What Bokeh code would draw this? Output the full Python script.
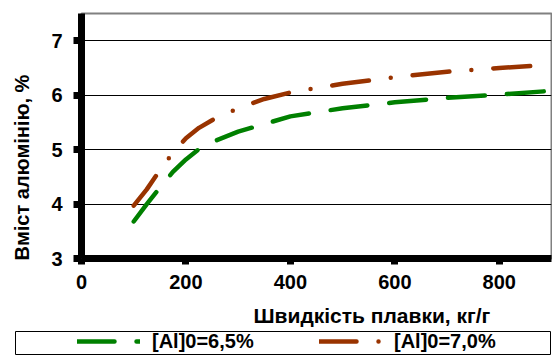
from bokeh.plotting import figure
from bokeh.layouts import column
from bokeh.models import (Range1d, FixedTicker, LinearAxis, Title, Legend,
                          LegendItem, ColumnDataSource)
from bokeh.embed import file_html
from bokeh.resources import INLINE

# Melting rate (kg/h) versus aluminium content (%) for two initial Al levels
rate_al65 = [100, 125, 150, 175, 200, 225, 250, 300, 350, 400, 500, 600, 700, 800, 900]
al_al65 = [3.68, 4.00, 4.30, 4.59, 4.82, 5.01, 5.14, 5.33, 5.47, 5.61, 5.76, 5.87, 5.95, 6.01, 6.08]

rate_al70 = [100, 125, 150, 175, 200, 225, 250, 300, 350, 400, 500, 600, 700, 800, 870]
al_al70 = [3.97, 4.27, 4.62, 4.94, 5.21, 5.40, 5.54, 5.76, 5.93, 6.05, 6.21, 6.33, 6.43, 6.50, 6.54]

series_labels = ["[Al]0=6,5%", "[Al]0=7,0%"]
x_ticks = [0, 200, 400, 600, 800]
y_ticks = [3, 4, 5, 6, 7]
x_title = "Швидкість плавки, кг/г"
y_title = "Вміст алюмінію, %"

FONT = "Liberation Sans"
GREEN = "#008000"
BROWN = "#993300"
GREEN_DASH = "37 22"
BROWN_DASH = "37 22 0 22"

src65 = ColumnDataSource(data=dict(x=rate_al65, y=al_al65))
src70 = ColumnDataSource(data=dict(x=rate_al70, y=al_al70))

p = figure(width=552, height=328,
           x_range=Range1d(0, 900), y_range=Range1d(3, 7.5),
           output_backend="svg", toolbar_location=None,
           min_border_left=81, min_border_right=1,
           min_border_top=13, min_border_bottom=70)
p.frame_align = False

p.background_fill_color = "white"
p.border_fill_color = "white"
p.outline_line_color = "#808080"
p.outline_line_width = 2

p.xgrid.visible = False
p.ygrid.grid_line_color = "black"
p.ygrid.grid_line_width = 1

for ax in (p.xaxis[0], p.yaxis[0]):
    ax.axis_line_color = "black"
    ax.axis_line_width = 7
    ax.major_tick_line_color = "black"
    ax.major_tick_line_width = 7
    ax.major_tick_in = 0
    ax.minor_tick_in = 0
    ax.minor_tick_out = 0
    ax.major_label_text_font = FONT
    ax.major_label_text_font_size = "20px"
    ax.major_label_text_font_style = "bold"
    ax.major_label_text_color = "black"

p.xaxis.ticker = FixedTicker(ticks=x_ticks)
p.yaxis.ticker = FixedTicker(ticks=y_ticks)
p.xaxis.major_tick_out = 6
p.xaxis.major_label_standoff = 10
p.yaxis.major_tick_out = 8
p.yaxis.major_label_standoff = 11

line_style = dict(line_width=4.5, line_cap="round", line_join="round")
r65 = p.line("x", "y", source=src65, line_color=GREEN, line_dash=GREEN_DASH, **line_style)
r70 = p.line("x", "y", source=src70, line_color=BROWN, line_dash=BROWN_DASH, **line_style)


def gap_axis(size, at):
    """Blank (white-on-white) axis that only reserves a fixed gap before a title."""
    return LinearAxis(ticker=FixedTicker(ticks=[at], minor_ticks=[]),
                      axis_line_color=None,
                      major_tick_out=size, major_tick_in=0,
                      minor_tick_out=0, minor_tick_in=0,
                      major_tick_line_color="white", major_tick_line_width=1,
                      major_label_overrides={at: ""},
                      major_label_text_font_size="1px",
                      major_label_text_color="white",
                      major_label_standoff=0)


p.add_layout(gap_axis(10, 450), "below")
p.add_layout(gap_axis(16, 5), "left")

p.add_layout(Title(text=x_title, align="left", offset=172, standoff=0,
                   text_font=FONT, text_font_size="21px", text_font_style="bold",
                   text_color="black"), "below")
p.add_layout(Title(text=y_title, align="left", offset=-2, standoff=0,
                   text_font=FONT, text_font_size="20px", text_font_style="bold",
                   text_color="black"), "left")

# Legend strip under the chart, framed by its own outline; its key lines use
# the same sources but sit outside this strip's ranges, so only the legend shows
leg = figure(width=552, height=28, x_range=Range1d(-2, -1), y_range=Range1d(-2, -1),
             x_axis_type=None, y_axis_type=None,
             output_backend="svg", toolbar_location=None,
             min_border_left=15, min_border_right=2,
             min_border_top=3, min_border_bottom=2)
leg.frame_align = False
leg.outline_line_color = "black"
leg.outline_line_width = 1
leg.background_fill_color = "white"
leg.border_fill_color = "white"

key65 = leg.line("x", "y", source=src65, line_color=GREEN, line_dash=GREEN_DASH, **line_style)
key70 = leg.line("x", "y", source=src70, line_color=BROWN, line_dash=BROWN_DASH, **line_style)

legend = Legend(
    items=[LegendItem(label=series_labels[0], renderers=[key65]),
           LegendItem(label=series_labels[1], renderers=[key70])],
    orientation="horizontal", location=(62, 1.5),
    padding=0, margin=0, spacing=17,
    glyph_width=63, glyph_height=20, label_height=20, label_width=150,
    label_standoff=12,
    border_line_alpha=0, background_fill_alpha=0,
    label_text_font=FONT, label_text_font_size="20px",
    label_text_font_style="bold", label_text_color="black")
leg.add_layout(legend)

layout = column(p, leg, spacing=0)
open("out.html", "w").write(file_html(layout, INLINE))
